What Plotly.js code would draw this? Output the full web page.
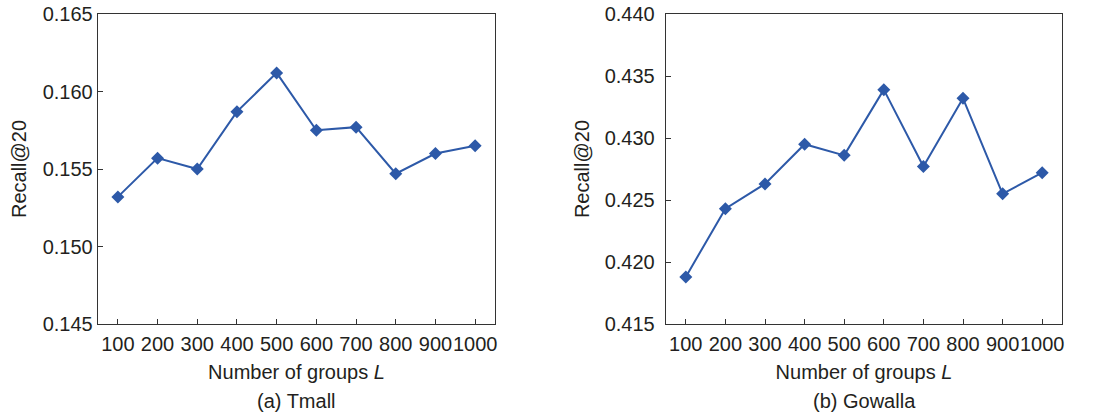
<!DOCTYPE html>
<html>
<head>
<meta charset="utf-8">
<script src="https://cdn.plot.ly/plotly-3.0.1.min.js"></script>
<style>html,body{margin:0;padding:0;background:#fff;}#chart{width:1101px;height:416px;}</style>
</head>
<body>
<div id="chart"></div>
<script>
const groups = ["100","200","300","400","500","600","700","800","900","1000"];
const tmallRecall = [0.1532,0.1557,0.1550,0.1587,0.1612,0.1575,0.1577,0.1547,0.1560,0.1565];
const gowallaRecall = [0.4188,0.4243,0.4263,0.4295,0.4286,0.4339,0.4277,0.4332,0.4255,0.4272];
const tmallTicks = [0.145,0.150,0.155,0.160,0.165];
const gowallaTicks = [0.415,0.420,0.425,0.430,0.435,0.440];
const captions = ["(a) Tmall","(b) Gowalla"];
const yTitle = "Recall@20";
const xTitle = "Number of groups <i>L</i>";

const color = "#2D59A8";
const font = {family: "Liberation Sans, Arial, sans-serif", size: 20, color: "#231f20"};

function trace(y, xa, ya) {
  return {x: groups, y: y, xaxis: xa, yaxis: ya, type: "scatter", mode: "lines+markers",
    line: {color: color, width: 2}, marker: {symbol: "diamond", size: 10, color: color},
    showlegend: false, hoverinfo: "skip"};
}
function xa(domain, anchor) {
  return {domain: domain, anchor: anchor, type: "category", range: [-0.5, 9.5],
    showline: true, mirror: true, linecolor: "#333", linewidth: 1.3,
    ticks: "inside", ticklen: 5, tickcolor: "#333", tickwidth: 1, tickangle: 0,
    ticklabelstandoff: 2,
    showgrid: false, zeroline: false, tickfont: font, fixedrange: true,
    title: {text: xTitle, font: font, standoff: 10}};
}
function ya(domain, anchor, ticks) {
  return {domain: domain, anchor: anchor, range: [ticks[0], ticks[ticks.length-1]],
    tickvals: ticks, ticktext: ticks.map(v => v.toFixed(3)),
    showline: true, mirror: true, linecolor: "#333", linewidth: 1.3,
    ticks: "inside", ticklen: 5, tickcolor: "#333", tickwidth: 1,
    showgrid: false, zeroline: false, tickfont: font, fixedrange: true,
    title: {text: yTitle, font: font, standoff: 10}};
}
const yd = [1 - 324/416, 1 - 14/416];
const layout = {
  width: 1101, height: 416,
  margin: {l: 0, r: 0, t: 0, b: 0},
  paper_bgcolor: "#fff", plot_bgcolor: "#fff",
  font: font,
  xaxis: xa([98/1101, 495/1101], "y"),
  yaxis: ya(yd, "x", tmallTicks),
  xaxis2: xa([666/1101, 1062/1101], "y2"),
  yaxis2: ya(yd, "x2", gowallaTicks),
  annotations: [
    {text: captions[0], xref: "paper", yref: "paper", x: (98+495)/2/1101, y: 1 - 401/416, yanchor: "middle", xanchor: "center", showarrow: false, font: font},
    {text: captions[1], xref: "paper", yref: "paper", x: (666+1062)/2/1101, y: 1 - 401/416, yanchor: "middle", xanchor: "center", showarrow: false, font: font}
  ]
};
layout.yaxis2.ticklabelstandoff = 6;
layout.yaxis2.title.standoff = 9;
Plotly.newPlot("chart", [trace(tmallRecall, "x", "y"), trace(gowallaRecall, "x2", "y2")], layout, {staticPlot: true, displayModeBar: false});
</script>
</body>
</html>
